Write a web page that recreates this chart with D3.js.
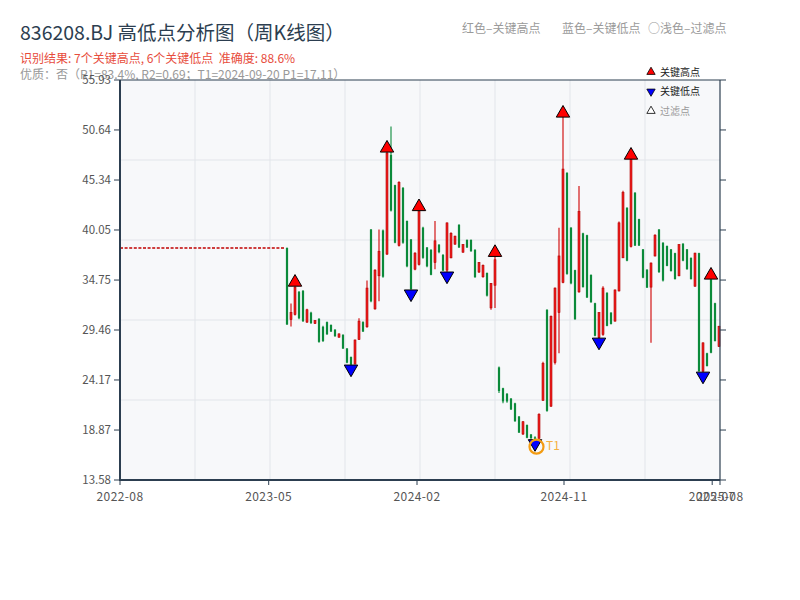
<!DOCTYPE html>
<html><head><meta charset="utf-8">
<script src="https://cdn.jsdelivr.net/npm/d3@7/dist/d3.min.js"></script>
<style>
body{margin:0;background:#fff}
svg{display:block}
text{font-family:"Noto Sans CJK SC","Noto Sans",sans-serif;white-space:pre}
</style>
</head><body>
<svg id="c" width="800" height="600"></svg>
<script>
// ---- data (weekly candles) ----
const openP  = [38.15,30.56,31.1,33.5,33.6,30.3,31.3,30.15,30.65,29.8,30.3,30.0,29.5,28.7,28.95,27.5,26.6,25.85,28.45,30.3,
                29.8,40.1,31.7,35.2,40.0,37.5,48.0,44.8,38.4,44.5,41.0,39.05,35.9,36.4,40.3,38.2,37.95,36.6,38.5,37.4,
                35.8,37.1,38.55,40.6,37.7,39.0,39.0,37.95,35.6,35.1,35.5,31.8,34.2,25.5,23.3,22.7,22.2,21.7,20.3,18.45,
                19.4,18.4,18.1,18.0,22.0,31.6,21.4,26.0,31.3,34.5,46.1,40.3,35.8,33.5,39.7,39.5,35.3,32.3,28.65,29.0,
                33.4,31.3,30.4,33.6,37.1,42.4,38.3,44.0,41.2,38.0,35.85,34.0,37.3,40.1,38.7,38.35,38.0,37.6,35.2,38.6,
                38.0,37.1,34.1,37.6,25.1,27.0,34.8,32.3,27.7];
const highP  = [38.2,32.26,34.1,33.6,33.7,31.7,31.4,30.5,30.7,29.9,30.35,30.05,29.55,29.1,29.0,27.55,26.65,28.45,30.7,30.4,
                34.7,40.15,35.9,40.1,40.1,48.3,51.0,44.85,45.2,44.6,41.05,39.1,37.7,42.1,40.4,38.25,38.0,41.0,38.55,37.5,
                40.85,39.8,39.45,40.65,38.55,39.05,39.05,38.0,36.65,36.4,35.55,34.45,37.25,25.6,23.35,22.8,22.25,21.75,20.35,19.8,
                19.45,18.45,18.2,20.65,26.1,31.65,31.0,33.95,40.3,52.0,46.15,40.35,35.85,44.7,39.75,39.55,35.35,32.35,31.35,34.1,
                33.45,31.35,33.75,40.95,44.2,42.45,47.55,44.05,41.25,38.05,35.9,36.6,39.6,40.15,38.75,38.4,38.05,37.65,38.55,38.65,
                38.05,37.15,37.65,37.65,28.15,27.05,34.85,32.35,29.9];
const lowP   = [30.0,29.82,31.0,30.6,30.3,30.2,30.1,30.1,28.1,28.2,28.95,29.25,28.75,28.65,27.45,25.95,25.75,25.85,28.4,29.25,
                29.7,32.4,31.6,32.5,35.0,37.4,42.0,38.65,38.3,38.6,36.1,33.7,35.8,36.3,37.0,36.1,35.25,35.9,37.6,35.7,
                35.6,37.05,38.5,38.15,37.65,38.15,37.75,35.0,35.5,35.0,33.0,31.6,31.8,22.8,21.7,21.75,21.0,19.75,18.55,18.35,
                18.0,17.95,17.85,17.9,22.0,20.8,21.3,25.8,27.0,34.4,35.3,34.3,30.55,33.4,33.95,32.85,32.35,28.8,28.6,28.85,
                29.85,30.05,30.35,33.55,37.1,36.75,38.2,38.35,38.35,34.95,33.9,28.1,37.25,35.5,34.6,36.2,35.65,34.8,35.15,36.75,
                35.85,34.8,34.05,25.05,25.0,25.6,27.0,28.25,27.7];
const closeP = [30.05,31.31,34.0,30.7,30.4,31.6,30.2,30.45,28.2,28.3,29.0,29.3,28.8,29.05,27.5,26.0,25.8,28.4,30.4,29.3,
                33.9,32.5,35.8,37.8,35.1,48.2,42.1,38.7,45.1,38.7,36.2,33.8,37.6,42.0,37.1,36.2,35.3,38.9,37.7,35.75,
                40.8,39.7,39.4,38.2,38.5,38.2,37.8,35.05,36.6,36.3,33.1,34.4,36.9,23.0,21.9,21.9,21.05,19.8,18.6,19.75,
                18.05,18.0,17.95,20.5,25.9,20.9,30.9,33.9,37.3,46.5,35.4,34.4,30.6,42.0,34.0,32.9,32.4,28.85,31.3,33.9,
                29.9,30.1,33.7,40.8,44.0,36.8,47.5,38.4,38.4,35.0,33.95,36.55,39.5,35.6,34.7,36.25,35.7,34.85,38.5,36.8,
                35.9,34.85,37.6,25.1,28.1,25.65,27.05,28.3,29.85];
const highIdx = [2,25,33,52,69,86,106];      // key highs (7)
const lowIdx  = [16,31,40,62,78,104];        // key lows (6)
const t1Idx = 62, t1Price = 17.11;
const yTicks = [13.58,18.87,24.17,29.46,34.75,40.05,45.34,50.64,55.93];
const xTickIdx = [-41.75,-4.575,32.5,69.25,106.3,108.25];
const xTickLabels = ["2022-08","2023-05","2024-02","2024-11","2025-07","2025-08"];

const titleText = "836208.BJ 高低点分析图（周K线图）";
const resultText = "识别结果: 7个关键高点, 6个关键低点  准确度: 88.6%";
const qualityText = "优质：否（R1=83.4%, R2=0.69；T1=2024-09-20 P1=17.11）";

// ---- layout ----
const L = 120, R = 720, T = 80, B = 480;
const svg = d3.select("#c");
svg.append("rect").attr("width",800).attr("height",600).attr("fill","#fff");

svg.append("text").attr("x",20).attr("y",40).attr("font-size",19.5).attr("fill","#2c3e50").text(titleText);
svg.append("text").attr("x",20).attr("y",63).attr("font-size",12).attr("fill","#e74c3c").text(resultText);
svg.append("text").attr("x",20).attr("y",79).attr("font-size",12).attr("fill","#999").text(qualityText);

// top legend
const topLeg = [["红色–关键高点",462],["蓝色–关键低点",562],["○浅色–过滤点",648]];
svg.selectAll("text.tl").data(topLeg).join("text").attr("class","tl")
  .attr("x",d=>d[1]).attr("y",33).attr("font-size",12).attr("fill","#9a9a9a").text(d=>d[0]);

const n = openP.length;
const x = d3.scaleLinear().domain([-41.75,108.25]).range([L,R]);
const y = d3.scaleLinear().domain([yTicks[0], yTicks[yTicks.length-1]]).range([B,T]);

// plot background
svg.append("rect").attr("x",L).attr("y",T).attr("width",R-L).attr("height",B-T).attr("fill","#f7f8fa");
// grid
const g = svg.append("g");
g.selectAll("line.gv").data(d3.range(1,8)).join("line")
  .attr("x1",i=>L+i*(R-L)/8).attr("x2",i=>L+i*(R-L)/8).attr("y1",T).attr("y2",B)
  .attr("stroke","#e2e5ea").attr("stroke-width",1);
g.selectAll("line.gh").data(d3.range(1,5)).join("line")
  .attr("y1",i=>T+i*(B-T)/5).attr("y2",i=>T+i*(B-T)/5).attr("x1",L).attr("x2",R)
  .attr("stroke","#e2e5ea").attr("stroke-width",1);

// dashed lead line at first open
svg.append("line").attr("x1",L).attr("x2",x(0)-1.5).attr("y1",y(openP[0])).attr("y2",y(openP[0]))
  .attr("stroke","#c00000").attr("stroke-width",1.6).attr("stroke-dasharray","3,1.6");

// candles
const data = d3.range(n).map(i=>({i,o:openP[i],h:highP[i],l:lowP[i],c:closeP[i]}));
const cg = svg.append("g");
const up = d=>d.c>=d.o;
cg.selectAll("line.w").data(data).join("line")
  .attr("x1",d=>x(d.i)).attr("x2",d=>x(d.i)).attr("y1",d=>y(d.h)).attr("y2",d=>y(d.l))
  .attr("stroke",d=>up(d)?"#d00000":"#0b8a3a").attr("stroke-width",1.1);
cg.selectAll("rect.b").data(data).join("rect")
  .attr("x",d=>x(d.i)-(up(d)?1.0:1.1)).attr("width",d=>up(d)?2.0:2.2)
  .attr("y",d=>y(Math.max(d.o,d.c))).attr("height",d=>Math.max(1,Math.abs(y(d.o)-y(d.c))))
  .attr("fill",d=>up(d)?"#f22020":"#0b8a3a")
  .attr("stroke",d=>up(d)?"#b00000":"none").attr("stroke-width",0.6);

// markers
const tri = d3.symbol().type(d3.symbolTriangle).size(78);
const triH = Math.sqrt(78/(3*Math.sqrt(3)));
svg.selectAll("path.hi").data(highIdx).join("path")
  .attr("d",tri).attr("transform",i=>`translate(${x(i)},${y(highP[i])-triH})`)
  .attr("fill","#ff0000").attr("stroke","#000").attr("stroke-width",1);
svg.selectAll("path.lo").data(lowIdx).join("path")
  .attr("d",tri).attr("transform",i=>`translate(${x(i)},${y(lowP[i])+triH}) rotate(180)`)
  .attr("fill","#0000ff").attr("stroke","#000").attr("stroke-width",1);

// T1 marker
svg.append("circle").attr("cx",x(t1Idx)+1.5).attr("cy",y(t1Price)).attr("r",7)
  .attr("fill","none").attr("stroke","#f39c12").attr("stroke-width",2.2);
svg.append("text").attr("x",x(t1Idx)+11).attr("y",y(t1Price)+3).attr("font-size",12)
  .attr("fill","#f5b041").text("T1");

// frame
svg.append("line").attr("x1",L).attr("x2",R).attr("y1",T).attr("y2",T).attr("stroke","#2c3e50").attr("stroke-width",1.2);
svg.append("line").attr("x1",R).attr("x2",R).attr("y1",T).attr("y2",B).attr("stroke","#2c3e50").attr("stroke-width",1.2);
svg.append("line").attr("x1",L).attr("x2",L).attr("y1",T).attr("y2",B+1).attr("stroke","#2c3e50").attr("stroke-width",2);
svg.append("line").attr("x1",L-1).attr("x2",R).attr("y1",B).attr("y2",B).attr("stroke","#2c3e50").attr("stroke-width",2);

// y axis left
const yl = svg.append("g");
yl.selectAll("line").data(yTicks).join("line").attr("x1",L-6).attr("x2",L).attr("y1",d=>y(d)).attr("y2",d=>y(d))
  .attr("stroke","#2c3e50").attr("stroke-width",1);
yl.selectAll("text").data(yTicks).join("text").attr("x",L-9).attr("y",d=>y(d)+4).attr("text-anchor","end")
  .attr("font-size",11.5).attr("fill","#555").text(d=>d.toFixed(2));
// y axis right (ticks only)
svg.append("g").selectAll("line").data(yTicks).join("line").attr("x1",R).attr("x2",R+6).attr("y1",d=>y(d)).attr("y2",d=>y(d))
  .attr("stroke","#2c3e50").attr("stroke-width",1);
// x axis
const xl = svg.append("g");
xl.selectAll("line").data(xTickIdx).join("line").attr("x1",d=>x(d)).attr("x2",d=>x(d)).attr("y1",B).attr("y2",B+5)
  .attr("stroke","#2c3e50").attr("stroke-width",1);
xl.selectAll("text").data(xTickIdx).join("text").attr("x",d=>x(d)).attr("y",B+21).attr("text-anchor","middle")
  .attr("font-size",12).attr("letter-spacing",0.4).attr("fill","#555").text((d,i)=>xTickLabels[i]);

// inner legend
const legItems = [["关键高点","#ff0000",0,"#222"],["关键低点","#0000ff",180,"#222"],["过滤点","#ffffff",0,"#999"]];
const lg = svg.append("g");
const smallTri = d3.symbol().type(d3.symbolTriangle).size(30);
legItems.forEach((it,k)=>{
  const cy = 72 + k*19.5;
  lg.append("path").attr("d",smallTri).attr("transform",`translate(651,${cy}) rotate(${it[2]})`)
    .attr("fill",it[1]).attr("stroke","#000").attr("stroke-width",0.8);
  lg.append("text").attr("x",660).attr("y",cy+3.5).attr("font-size",10).attr("fill",it[3]).text(it[0]);
});
</script>
</body></html>
